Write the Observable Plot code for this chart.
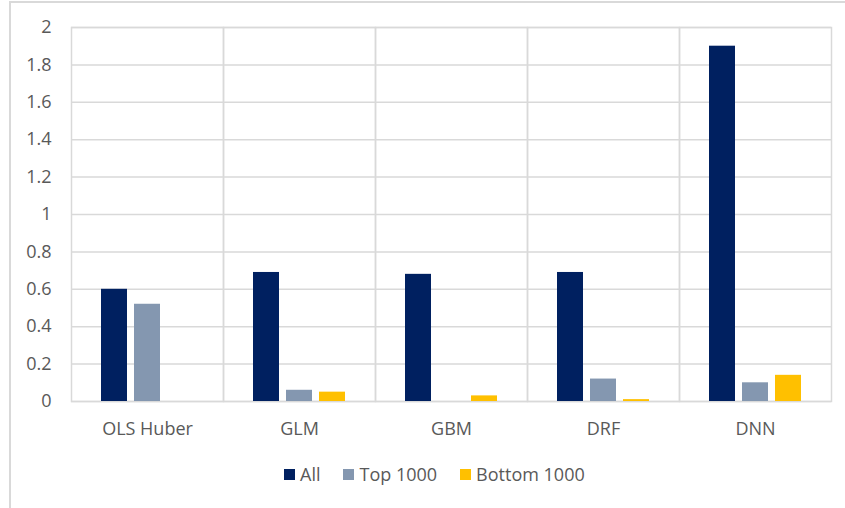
<!DOCTYPE html>
<html>
<head>
<meta charset="utf-8">
<script src="https://cdn.jsdelivr.net/npm/d3@7"></script>
<script src="https://cdn.jsdelivr.net/npm/@observablehq/plot@0.6"></script>
<style>
  body { margin: 0; background: #fff; font-family: "Open Sans", sans-serif; }
  #border { position: absolute; left: 9px; top: 1px; width: 900px; height: 600px;
            border-left: 2px solid #d9d9d9; border-top: 2px solid #d9d9d9; }
  #chart { position: absolute; left: 0; top: 0; }
  #legend { position: absolute; left: 284px; top: 462px; display: flex; align-items: center;
            font-size: 18px; color: #595959; white-space: nowrap; }
  .item { display: flex; align-items: center; margin-right: 23px; }
  .sw { width: 11px; height: 11px; margin-right: 5px; }
</style>
</head>
<body>
<div id="border"></div>
<div id="chart"></div>
<div id="legend"></div>
<script>
// Models compared and the three evaluation subsets
const models = ["OLS Huber", "GLM", "GBM", "DRF", "DNN"];
const series = ["All", "Top 1000", "Bottom 1000"];
const colors = ["#002060", "#8497b0", "#ffc000"];

// Metric per model, one array per subset
const allValues = [0.60, 0.69, 0.68, 0.69, 1.90];
const top1000 = [0.52, 0.06, 0.00, 0.12, 0.10];
const bottom1000 = [0.00, 0.05, 0.03, 0.01, 0.14];

const yTicks = [0, 0.2, 0.4, 0.6, 0.8, 1, 1.2, 1.4, 1.6, 1.8, 2];

const valuesBySeries = [allValues, top1000, bottom1000];
const data = [];
models.forEach((m, i) => {
  series.forEach((s, j) => data.push({ model: m, series: s, value: valuesBySeries[j][i] }));
});

const grid = "#d9d9d9";

const chart = Plot.plot({
  width: 845,
  height: 450,
  marginLeft: 71,
  marginRight: 14,
  marginTop: 27,
  marginBottom: 49,
  style: { fontFamily: "Open Sans, sans-serif", fontSize: "18px", color: "#595959", background: "transparent", overflow: "visible" },
  fx: { domain: models, paddingInner: 0, paddingOuter: 0, label: null, axis: "bottom", tickSize: 0, tickPadding: 21 },
  x: { domain: series, axis: null, paddingInner: 0.2, paddingOuter: 0.88 },
  y: { domain: [0, 2], ticks: yTicks, tickSize: 0, tickPadding: 20, label: null,
       tickFormat: d => String(Math.round(d * 10) / 10) },
  color: { domain: series, range: colors },
  marks: [
    Plot.gridY(yTicks, { stroke: grid, strokeOpacity: 1, strokeWidth: 1.5 }),
    Plot.frame({ stroke: grid, strokeWidth: 1.5 }),
    Plot.barY(data, { fx: "model", x: "series", y: "value", fill: "series" })
  ]
});
document.getElementById("chart").append(chart);

// Legend below the chart
const legend = document.getElementById("legend");
series.forEach((s, i) => {
  const item = document.createElement("div");
  item.className = "item";
  const sw = document.createElement("span");
  sw.className = "sw";
  sw.style.background = colors[i];
  const label = document.createElement("span");
  label.textContent = s;
  item.append(sw, label);
  legend.append(item);
});
</script>
</body>
</html>
